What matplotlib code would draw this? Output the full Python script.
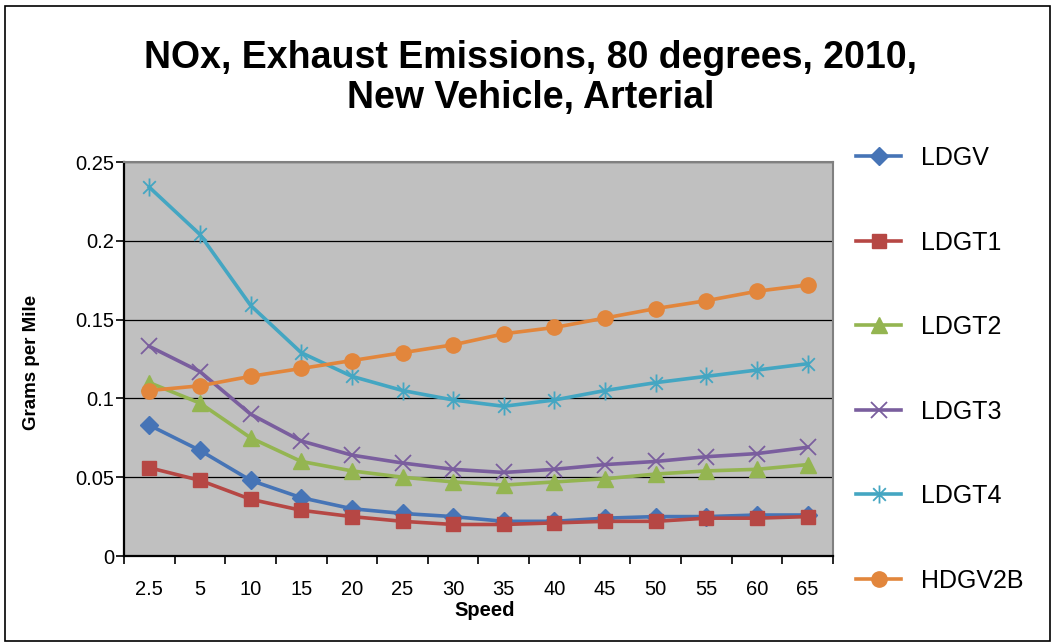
import matplotlib
matplotlib.use('Agg')
import matplotlib.pyplot as plt
from matplotlib.path import Path
from matplotlib.patches import Rectangle

plt.rcParams['font.family'] = ['Liberation Sans', 'DejaVu Sans']

speeds = ['2.5', '5', '10', '15', '20', '25', '30', '35', '40', '45', '50', '55', '60', '65']
ldgv = [0.083, 0.067, 0.048, 0.037, 0.030, 0.027, 0.025, 0.022, 0.022, 0.024, 0.025, 0.025, 0.026, 0.026]
ldgt1 = [0.056, 0.048, 0.036, 0.029, 0.025, 0.022, 0.020, 0.020, 0.021, 0.022, 0.022, 0.024, 0.024, 0.025]
ldgt2 = [0.110, 0.097, 0.075, 0.060, 0.054, 0.050, 0.047, 0.045, 0.047, 0.049, 0.052, 0.054, 0.055, 0.058]
ldgt3 = [0.133, 0.117, 0.090, 0.073, 0.064, 0.059, 0.055, 0.053, 0.055, 0.058, 0.060, 0.063, 0.065, 0.069]
ldgt4 = [0.234, 0.204, 0.159, 0.129, 0.114, 0.105, 0.099, 0.095, 0.099, 0.105, 0.110, 0.114, 0.118, 0.122]
hdgv2b = [0.105, 0.108, 0.114, 0.119, 0.124, 0.129, 0.134, 0.141, 0.145, 0.151, 0.157, 0.162, 0.168, 0.172]

# excel style asterisk: an x with a vertical bar
star = Path([(0, -1), (0, 1), (-0.7, -0.7), (0.7, 0.7), (-0.7, 0.7), (0.7, -0.7)],
            [Path.MOVETO, Path.LINETO, Path.MOVETO, Path.LINETO, Path.MOVETO, Path.LINETO])

series = [
    ('LDGV', ldgv, '#4674B6', 'D', 9),
    ('LDGT1', ldgt1, '#B64744', 's', 10.5),
    ('LDGT2', ldgt2, '#94B551', '^', 11),
    ('LDGT3', ldgt3, '#7A5E9E', 'x', 11),
    ('LDGT4', ldgt4, '#44A6C2', star, 13),
    ('HDGV2B', hdgv2b, '#E2863C', 'o', 11),
]

fig = plt.figure(figsize=(10.57, 6.43), dpi=100)
fig.patches.append(Rectangle((5/1057, 2/643), 1045/1057, 635/643, transform=fig.transFigure,
                             fill=False, edgecolor='black', linewidth=1.2))
ax = fig.add_axes([124/1057, 1 - 556/643, 709/1057, 394/643])
ax.set_facecolor('#C0C0C0')

x = list(range(len(speeds)))
for name, vals, col, mk, ms in series:
    if mk == 'x' or isinstance(mk, Path):
        ax.plot(x, vals, color=col, lw=2.6, marker=mk, ms=ms, mew=1.3, label=name, zorder=3)
    else:
        ax.plot(x, vals, color=col, lw=2.6, marker=mk, ms=ms, mfc=col, mec=col, label=name, zorder=3)

ax.set_xlim(-0.5, len(speeds) - 0.5)
ax.set_ylim(0, 0.25)
ax.set_yticks([0, 0.05, 0.1, 0.15, 0.2, 0.25])
ax.set_yticklabels(['0', '0.05', '0.1', '0.15', '0.2', '0.25'])
ax.set_xticks(x)
ax.set_xticklabels(speeds)
ax.set_xticks([i - 0.5 for i in range(len(speeds) + 1)], minor=True)
ax.tick_params(axis='x', which='major', length=0, pad=17, labelsize=14.5)
ax.tick_params(axis='x', which='minor', length=6, width=1.2, direction='out')
ax.tick_params(axis='y', length=6, width=1.2, direction='out', pad=1, labelsize=14.5)
ax.grid(axis='y', color='black', lw=0.9)
ax.set_axisbelow(True)
for s in ['top', 'right']:
    ax.spines[s].set_color('#808080')
    ax.spines[s].set_linewidth(1.5)
for s in ['left', 'bottom']:
    ax.spines[s].set_linewidth(1.6)

fig.text(485/1057, 1 - 611/643, 'Speed', ha='center', va='center', fontsize=14.5, fontweight='bold')
fig.text(32/1057, 1 - 362/643, 'Grams per Mile', ha='center', va='center', rotation=90,
         fontsize=13.5, fontweight='bold')
fig.text(531/1057, 1 - 78/643, 'NOx, Exhaust Emissions, 80 degrees, 2010,\nNew Vehicle, Arterial',
         ha='center', va='center', fontsize=27, fontweight='bold', linespacing=1.15)

ax.legend(loc='upper left', bbox_to_anchor=(856/1057, 1 - 146/643), bbox_transform=fig.transFigure,
          frameon=False, fontsize=18, handlelength=1.8, handletextpad=0.8, labelspacing=2.42,
          borderaxespad=0, borderpad=0)

fig.savefig('out.png', dpi=100)
